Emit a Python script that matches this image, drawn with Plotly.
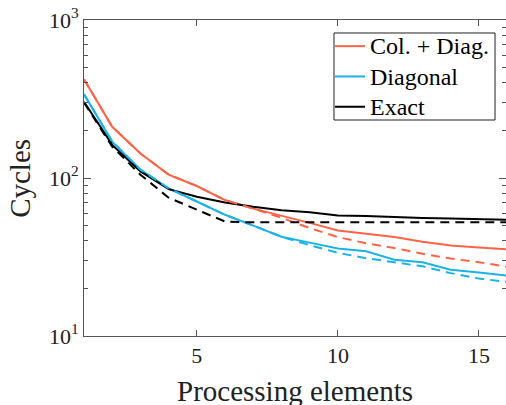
import plotly.graph_objects as go

# ---- data ----
pes = list(range(1, 17))
col_diag = [422, 211, 143, 105, 89, 72.5, 64, 58, 52, 46.5, 44.3, 42.3, 39.5, 37.4, 36.3, 35.4]
col_diag_dash = [422, 211, 143, 105, 89, 72.5, 64, 56, 48.2, 42.3, 38.6, 36, 33.2, 30.9, 29.3, 27.4]
diagonal = [339, 170, 113, 86, 71, 58.5, 50, 42.5, 39, 35.8, 34.4, 30.4, 29.3, 26.3, 25.2, 24.1]
diagonal_dash = [339, 170, 113, 86, 71, 58.5, 50, 42.5, 37.6, 33.6, 31.1, 29.4, 27.6, 25, 23.1, 22]
exact = [304, 162, 110, 85, 76, 70, 65.7, 62.5, 60.6, 58, 57.4, 56.5, 55.9, 55.5, 55, 54.4]
exact_dash = [300, 158, 105, 75, 63, 53, 52.4, 52.4, 52.4, 52.4, 52.4, 52.4, 52.4, 52.4, 52.4, 52.4]

names = ["Col. + Diag.", "Diagonal", "Exact"]
x_ticks = [5, 10, 15]
y_ticks = [10, 100, 1000]
y_ticktext = ["10<sup>1</sup>", "10<sup>2</sup>", "10<sup>3</sup>"]
y_minor = [m * d for d in (10, 100) for m in range(2, 10)]

ORANGE = "#FF6347"
CYAN = "#1BB3E6"
BLACK = "#000000"
FONT = "Liberation Serif"
DASH = "9px,6px"
TXT = "#222222"
AXC = "#555555"

fig = go.Figure()
for ys, name, color in [(col_diag, names[0], ORANGE), (diagonal, names[1], CYAN), (exact, names[2], BLACK)]:
    fig.add_trace(go.Scatter(x=pes, y=ys, mode="lines",
                             name='<span style="font-size:24px;font-family:Liberation Serif">%s</span>' % name,
                             line=dict(color=color, width=2)))
for ys, color in [(col_diag_dash, ORANGE), (diagonal_dash, CYAN), (exact_dash, BLACK)]:
    fig.add_trace(go.Scatter(x=pes, y=ys, mode="lines", showlegend=False,
                             line=dict(color=color, width=2, dash=DASH)))

fig.update_layout(
    width=506, height=405,
    margin=dict(l=84, r=0, t=20, b=69),
    paper_bgcolor="white", plot_bgcolor="white",
    font=dict(family=FONT, size=22, color=TXT),
    showlegend=True,
    legend=dict(x=0.583, y=0.981, xanchor="left", yanchor="top",
                borderwidth=0, bgcolor="rgba(0,0,0,0)",
                font=dict(family=FONT, size=21, color="black"),
                tracegroupgap=0),
    xaxis=dict(range=[1, 15.96], tickvals=x_ticks, ticks="inside", ticklen=6,
               tickcolor=AXC, showline=True, linecolor=AXC, linewidth=1,
               mirror="ticks", showgrid=False, zeroline=False, automargin=False,
               tickfont=dict(family=FONT, size=22, color=TXT)),
    yaxis=dict(type="log", range=[1, 3], tickvals=y_ticks, ticktext=y_ticktext,
               ticks="inside", ticklen=7, tickcolor=AXC, showline=True,
               linecolor=AXC, linewidth=1, mirror="ticks", showgrid=False,
               zeroline=False, automargin=False,
               tickfont=dict(family=FONT, size=22, color=TXT)),
    yaxis2=dict(type="log", range=[1, 3], overlaying="y", side="left",
                tickvals=y_minor, showticklabels=False, ticks="inside", ticklen=4,
                tickcolor=AXC, showline=False, mirror="ticks", showgrid=False,
                zeroline=False, automargin=False),
    shapes=[dict(type="rect", xref="paper", yref="paper",
                 x0=0.5924, x1=0.974, y0=0.6835, y1=0.9589, layer="above",
                 fillcolor="white", line=dict(color=TXT, width=1))],
)
# invisible helper trace so the minor-tick axis is rendered
fig.add_trace(go.Scatter(x=[1], y=[100], yaxis="y2", mode="lines",
                         showlegend=False, hoverinfo="skip", line=dict(width=0)))

fig.add_annotation(text="Processing elements", xref="paper", yref="paper",
                   x=0.5, y=0, xanchor="center", yanchor="top", yshift=-37,
                   showarrow=False, font=dict(family=FONT, size=29, color=TXT))
fig.add_annotation(text="Cycles", xref="paper", yref="paper",
                   x=-0.152, y=0.5, xanchor="center", yanchor="middle", textangle=-90,
                   showarrow=False, font=dict(family=FONT, size=29, color=TXT))

fig.write_html("out.html", config={"displayModeBar": False},
               post_script="document.body.style.margin='0';document.body.style.overflow='hidden';")
